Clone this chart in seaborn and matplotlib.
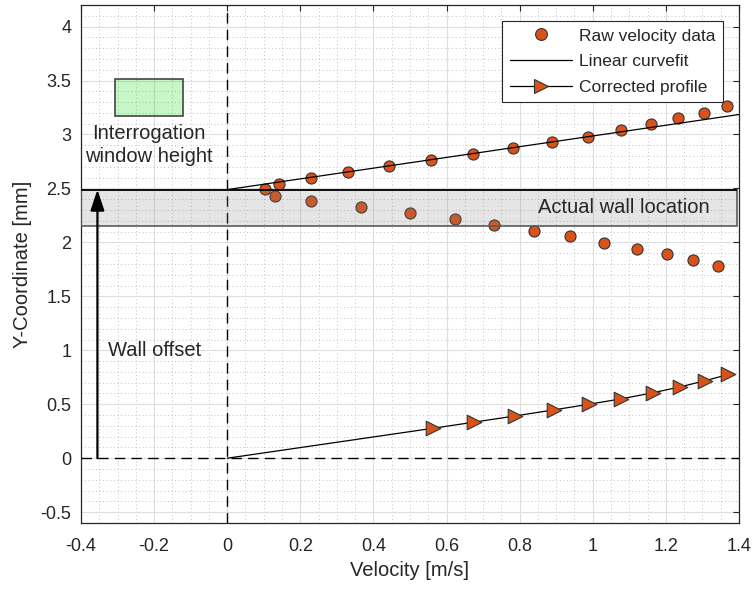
import numpy as np
import matplotlib
matplotlib.use("Agg")
import matplotlib.pyplot as plt
import seaborn as sns
from matplotlib.patches import Rectangle
from matplotlib.lines import Line2D
from matplotlib.ticker import MultipleLocator, FuncFormatter

# Raw PIV samples: the upper branch follows the real profile,
# the lower branch is the mirrored reflection inside the wall.
upper_u = [0.104, 0.142, 0.230, 0.331, 0.443, 0.558, 0.673, 0.782,
           0.889, 0.987, 1.077, 1.159, 1.233, 1.304, 1.367]
upper_y = [2.498, 2.545, 2.600, 2.656, 2.712, 2.767, 2.823, 2.878,
           2.934, 2.981, 3.045, 3.101, 3.148, 3.203, 3.268]
lower_u = [0.131, 0.230, 0.366, 0.500, 0.623, 0.730, 0.839, 0.938,
           1.031, 1.121, 1.203, 1.274, 1.343]
lower_y = [2.433, 2.380, 2.328, 2.273, 2.220, 2.164, 2.108, 2.056,
           1.997, 1.942, 1.889, 1.833, 1.781]

# Wall-corrected profile
corr_u = [0.564, 0.675, 0.788, 0.894, 0.991, 1.078, 1.164, 1.239, 1.306, 1.371]
corr_y = [0.278, 0.334, 0.392, 0.448, 0.501, 0.550, 0.606, 0.661, 0.717, 0.776]

# Linear fit of the upper branch; its intercept is the wall offset [mm]
fit_slope = 0.497
fit_intercept = 2.489
fit_range = [0.0, 1.4]

window_height = 0.34        # interrogation window height [mm]
wall_box_u = [-0.4, 1.395]  # horizontal extent of the wall band
window_box_u = [-0.307, -0.122]
window_box_y0 = 3.175
offset_arrow_u = -0.355

x_ticks = [-0.4, -0.2, 0, 0.2, 0.4, 0.6, 0.8, 1, 1.2, 1.4]
y_ticks = [-0.5, 0, 0.5, 1, 1.5, 2, 2.5, 3, 3.5, 4]

ORANGE = "#D95319"
INK = "#262626"

sns.set_theme(style="white")
plt.rcParams["font.family"] = ["Liberation Sans", "DejaVu Sans"]
plt.rcParams["text.color"] = INK

fig = plt.figure(figsize=(7.54, 5.90), dpi=100)
ax = fig.add_axes([0.1074, 0.1136, 0.8726, 0.878])

# raw data
raw_u = np.array(upper_u + lower_u)
raw_y = np.array(upper_y + lower_y)
sns.scatterplot(x=raw_u, y=raw_y, ax=ax, s=64, color=ORANGE,
                edgecolor="#333333", linewidth=0.8, zorder=3, legend=False)

# linear curve fit
fit_u = np.array(fit_range)
sns.lineplot(x=fit_u, y=fit_slope * fit_u + fit_intercept, ax=ax,
             color="black", linewidth=0.9, zorder=5, legend=False)

# corrected profile, anchored at the wall (origin)
line_u = np.array([0.0] + corr_u)
line_y = np.array([0.0] + corr_y)
sns.lineplot(x=line_u, y=line_y, ax=ax, sort=False, estimator=None,
             color="black", linewidth=0.9, zorder=3, legend=False)
sns.scatterplot(x=corr_u, y=corr_y, ax=ax, marker=">", s=110, color=ORANGE,
                edgecolor="#333333", linewidth=0.8, zorder=4, legend=False)

# reference axes through the origin
dash = (0, (7.5, 4.5))
ax.axvline(0, color="black", lw=1.0, ls=dash, zorder=2)
ax.axhline(0, color="black", lw=1.0, ls=dash, zorder=2)

# actual wall location band
ax.add_patch(Rectangle((wall_box_u[0], fit_intercept - window_height),
                       wall_box_u[1] - wall_box_u[0], window_height,
                       facecolor=(0.5, 0.5, 0.5, 0.2), edgecolor="#5a5a5a",
                       lw=1.2, zorder=4))
ax.hlines(fit_intercept, wall_box_u[0], wall_box_u[1], color="black",
          lw=1.2, zorder=4)
ax.text(1.086, fit_intercept - window_height / 2, "Actual wall location",
        ha="center", va="center", fontsize=14.5, color=INK, zorder=6)

# interrogation window size
ax.add_patch(Rectangle((window_box_u[0], window_box_y0),
                       window_box_u[1] - window_box_u[0], window_height,
                       facecolor=(0.0, 0.85, 0.0, 0.22), edgecolor="#444444",
                       lw=1.2, zorder=4))
ax.text(-0.215, 2.90, "Interrogation\nwindow height", ha="center",
        va="center", fontsize=14.5, linespacing=1.25, color=INK, zorder=6)

# wall offset arrow
ax.annotate("", xy=(offset_arrow_u, fit_intercept), xytext=(offset_arrow_u, 0),
            arrowprops=dict(arrowstyle="-|>,head_length=0.9,head_width=0.3",
                            mutation_scale=14, color="black", lw=1.6,
                            shrinkA=0, shrinkB=0), zorder=6)
ax.text(-0.325, 1.0, "Wall offset", ha="left", va="center",
        fontsize=14.5, color=INK, zorder=6)

# axes styling
ax.set_xlim(-0.4, 1.4)
ax.set_ylim(-0.6, 4.2)
ax.set_xticks(x_ticks)
ax.set_yticks(y_ticks)
fmt = FuncFormatter(lambda v, p: f"{v:g}")
ax.xaxis.set_major_formatter(fmt)
ax.yaxis.set_major_formatter(fmt)
ax.xaxis.set_minor_locator(MultipleLocator(0.05))
ax.yaxis.set_minor_locator(MultipleLocator(0.1))
ax.grid(which="major", color="#dedede", lw=0.8, ls="-")
ax.grid(which="minor", color="#c2c2c2", lw=0.7, ls=(0, (1, 2.7)))
ax.set_axisbelow(True)
ax.tick_params(which="major", direction="in", length=4, width=0.8,
               top=True, right=True, colors=INK, labelsize=13)
ax.tick_params(axis="x", which="major", pad=11)
ax.tick_params(axis="y", which="major", pad=7)
ax.tick_params(which="minor", length=0)
for s in ax.spines.values():
    s.set_color(INK)
    s.set_linewidth(0.9)

ax.set_xlabel("Velocity [m/s]", fontsize=14.5, color=INK, labelpad=4)
ax.set_ylabel("Y-Coordinate [mm]", fontsize=14.5, color=INK, labelpad=6)

handles = [
    Line2D([], [], ls="none", marker="o", markersize=8.5, markerfacecolor=ORANGE,
           markeredgecolor="#333333", markeredgewidth=0.8),
    Line2D([], [], color="black", lw=0.9),
    Line2D([], [], color="black", lw=0.9, marker=">", markersize=10,
           markerfacecolor=ORANGE, markeredgecolor="#333333", markeredgewidth=0.8),
]
labels = ["Raw velocity data", "Linear curvefit", "Corrected profile"]
leg = ax.legend(handles, labels, loc="upper right", fontsize=12.5,
                frameon=True, fancybox=False, framealpha=1, edgecolor=INK,
                borderaxespad=0.9, borderpad=0.45, handlelength=3.6,
                handletextpad=0.4, labelspacing=0.6)
leg.get_frame().set_linewidth(0.8)
leg.set_zorder(10)

fig.savefig("out.png", dpi=100)
